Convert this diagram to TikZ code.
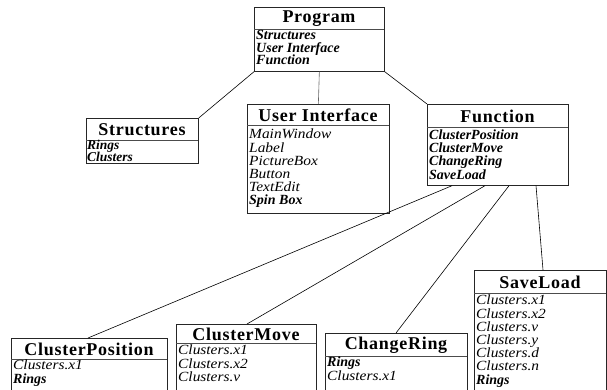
\documentclass[tikz,border=0pt]{standalone}
\usepackage{fontspec}
\setmainfont{Liberation Serif}
\newfontfamily\titlefont[LetterSpace=4]{Liberation Serif}
\newfontfamily\itfam[FakeStretch=1.1]{Liberation Serif}
\usetikzlibrary{calc}
\lineskiplimit=-20pt
\tikzset{
  box/.style={draw=black!85, line width=0.7pt, inner sep=0pt, anchor=north west, rectangle},
  divider/.style={draw=black!70, line width=0.6pt},
  conn/.style={draw=black, line width=0.6pt},
  title/.style={inner sep=0pt, font=\titlefont\bfseries\fontsize{18}{18}\selectfont},
  items/.style={inner sep=0pt, anchor=north west, align=left, font=\fontsize{14}{12.5}\selectfont},
  itemsb/.style={inner sep=0pt, anchor=north west, align=left, font=\fontsize{14}{13.2}\selectfont}
}
\newcommand{\bi}[1]{\textbf{\textit{#1}}}
\newcommand{\ii}[1]{{\itfam\itshape #1}}
\begin{document}
\begin{tikzpicture}[x=1pt,y=-1pt]
\useasboundingbox (0,0) rectangle (607,390);
\clip (0,0) rectangle (607,390);
% Program
\node[box, minimum width=130pt, minimum height=64pt] (prog) at (254,7) {};
\draw[divider] (254,29) -- (384,29);
\node[title] (progt) at (319,18.5) {Program};
\node[items] (progi) at (256,30.5) {\bi{Structures}\\\bi{User Interface}\\\bi{Function}};
% Structures
\node[box, minimum width=112pt, minimum height=45pt] (struct) at (86,118) {};
\draw[divider] (86,140) -- (198,140);
\node[title] (structt) at (142,129.5) {Structures};
\node[items, font=\fontsize{13.5}{12}\selectfont] (structi) at (87,140) {\bi{Rings}\\\bi{Clusters}};
% User Interface
\node[box, minimum width=142pt, minimum height=109pt] (ui) at (247,104) {};
\draw[divider] (247,125) -- (389,125);
\node[title] (uit) at (318,115) {User Interface};
\node[itemsb] (uii) at (249,129) {\ii{MainWindow}\\\ii{Label}\\\ii{PictureBox}\\\ii{Button}\\\ii{TextEdit}\\\bi{Spin Box}};
% Function
\node[box, minimum width=141pt, minimum height=81pt] (func) at (427,104) {};
\draw[divider] (427,127) -- (568,127);
\node[title] (funct) at (497.5,116) {Function};
\node[itemsb] (funci) at (429,129.5) {\bi{ClusterPosition}\\\bi{ClusterMove}\\\bi{ChangeRing}\\\bi{SaveLoad}};
% ClusterPosition
\node[box, minimum width=156pt, minimum height=70pt] (cp) at (11,338) {};
\draw[divider] (11,359) -- (167,359);
\node[title] (cpt) at (89,349) {ClusterPosition};
\node[itemsb] (cpi) at (13,360) {\ii{Clusters.x1}\\\bi{Rings}};
% ClusterMove
\node[box, minimum width=140pt, minimum height=80pt] (cm) at (176,324) {};
\draw[divider] (176,343) -- (316,343);
\node[title] (cmt) at (246,334) {ClusterMove};
\node[itemsb] (cmi) at (178,345) {\ii{Clusters.x1}\\\ii{Clusters.x2}\\\ii{Clusters.v}};
% ChangeRing
\node[box, minimum width=142pt, minimum height=70pt] (cr) at (325,333) {};
\draw[divider] (325,356) -- (467,356);
\node[title] (crt) at (396,345) {ChangeRing};
\node[itemsb] (cri) at (327,357) {\bi{Rings}\\\ii{Clusters.x1}};
% SaveLoad
\node[box, minimum width=132pt, minimum height=130pt] (sl) at (474,270) {};
\draw[divider] (474,293) -- (606,293);
\node[title] (slt) at (540,282) {SaveLoad};
\node[itemsb] (sli) at (476,295) {\ii{Clusters.x1}\\\ii{Clusters.x2}\\\ii{Clusters.v}\\\ii{Clusters.y}\\\ii{Clusters.d}\\\ii{Clusters.n}\\\bi{Rings}};
% connectors
\draw[conn] (prog.south west) -- (struct.north east);
\draw[conn, draw=black!60] (prog.south) -- (ui.north);
\draw[conn] (prog.south east) -- (func.north west);
\coordinate (f1) at ($(func.south west)+(25,0)$);
\coordinate (f2) at ($(func.south west)+(58,0)$);
\coordinate (f3) at ($(func.south west)+(82,0)$);
\coordinate (f4) at ($(func.south west)+(109,0)$);
\coordinate (cpin) at ($(cp.north west)+(77,0)$);
\coordinate (cmin) at ($(cm.north west)+(71,0)$);
\coordinate (crin) at ($(cr.north west)+(71,0)$);
\coordinate (slin) at ($(sl.north west)+(69,0)$);
\draw[conn] (f1) -- (cpin);
\draw[conn] (f2) -- (cmin);
\draw[conn] (f3) -- (crin);
\draw[conn] (f4) -- (slin);
\end{tikzpicture}
\end{document}
